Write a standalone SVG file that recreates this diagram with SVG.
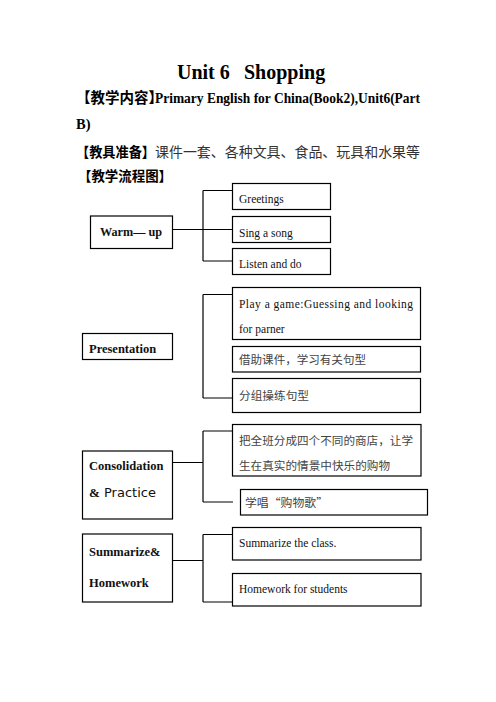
<svg xmlns="http://www.w3.org/2000/svg" width="496" height="702" viewBox="0 0 496 702">
<style>
.bg{fill:#fff}
.box{fill:#fff;stroke:#000;stroke-width:1.2}
.ln{fill:none;stroke:#000;stroke-width:1.2}
.hd{font-family:"Liberation Serif","Noto Sans CJK SC",serif;font-weight:bold;fill:#000}
.cjkb{font-family:"Noto Sans CJK SC",sans-serif;font-weight:bold}
.cjk{font-family:"Noto Sans CJK SC",sans-serif;font-weight:normal;fill:#333}
.en{font-family:"Liberation Serif",serif;font-size:11.5px;fill:#111}
.lb{font-family:"Liberation Serif",serif;font-weight:bold;font-size:12.5px;fill:#111}
.cn{font-family:"Noto Sans CJK SC",sans-serif;font-size:11.5px;fill:#444}
</style>
<rect class="bg" x="0" y="0" width="496" height="702"/>
<g id="header">
<text class="hd" font-size="20" y="79"><tspan x="177">Unit 6</tspan><tspan x="244">Shopping</tspan></text>
<text class="hd" font-size="14.5" y="103"><tspan class="cjkb" x="76">【教学内容】</tspan><tspan x="155" textLength="265" lengthAdjust="spacingAndGlyphs">Primary English for China(Book2),Unit6(Part</tspan></text>
<text class="hd" font-size="14.5" x="76" y="129">B)</text>
<text font-size="14" y="157"><tspan class="cjkb" x="76" textLength="79" lengthAdjust="spacingAndGlyphs">【教具准备】</tspan><tspan class="cjk" x="155" textLength="265" lengthAdjust="spacingAndGlyphs">课件一套、各种文具、食品、玩具和水果等</tspan></text>
<text class="cjkb" font-size="13.5" x="78" y="181" textLength="94" lengthAdjust="spacingAndGlyphs">【教学流程图】</text>
</g>
<g id="connectors">
<path class="ln" d="M172 229.5H203M203 190.5V261M203 190.5H232M203 229.5H232M203 261H232"/>
<path class="ln" d="M203 294.5V398M203 294.5H232M203 398H232"/>
<path class="ln" d="M172 462.5H203M203 431V502M203 431H232M203 502H233"/>
<path class="ln" d="M172 560.5H203M203 534.5V602M203 534.5H232M203 602H232"/>
</g>
<g id="warmup">
<rect class="box" x="90.5" y="216" width="82" height="32.5"/>
<text class="lb" x="100" y="236" textLength="62" lengthAdjust="spacingAndGlyphs">Warm— up</text>
</g>
<g id="greetings">
<rect class="box" x="232.5" y="183.5" width="98" height="26"/>
<text class="en" x="239" y="203">Greetings</text>
</g>
<g id="singasong">
<rect class="box" x="232.5" y="216.5" width="98" height="26"/>
<text class="en" x="239" y="236.5">Sing a song</text>
</g>
<g id="listen">
<rect class="box" x="232.5" y="248.5" width="98" height="26"/>
<text class="en" x="239" y="268">Listen and do</text>
</g>
<g id="presentation">
<rect class="box" x="82.5" y="333.5" width="90" height="26"/>
<text class="lb" x="89" y="353">Presentation</text>
</g>
<g id="game">
<rect class="box" x="232.5" y="287.5" width="188" height="52"/>
<text class="en" x="239" y="307.5" textLength="174" lengthAdjust="spacing">Play a game:Guessing and looking</text>
<text class="en" x="239" y="333">for parner</text>
</g>
<g id="jiezhu">
<rect class="box" x="232.5" y="346.5" width="188" height="25.5"/>
<text class="cn" x="239" y="364" textLength="127" lengthAdjust="spacingAndGlyphs">借助课件，学习有关句型</text>
</g>
<g id="fenzu">
<rect class="box" x="232.5" y="378.5" width="188" height="34"/>
<text class="cn" x="239" y="400" textLength="70" lengthAdjust="spacingAndGlyphs">分组操练句型</text>
</g>
<g id="consolidation">
<rect class="box" x="82.5" y="451" width="90" height="68"/>
<text class="lb" x="89" y="470">Consolidation</text>
<text x="89" y="497" font-size="13" fill="#111"><tspan font-family="Liberation Serif,serif" font-weight="bold">&amp;</tspan><tspan font-family="DejaVu Sans,sans-serif"> Practice</tspan></text>
</g>
<g id="shops">
<rect class="box" x="232.5" y="424.5" width="188.5" height="51.5"/>
<text class="cn" x="239" y="445" textLength="174" lengthAdjust="spacingAndGlyphs">把全班分成四个不同的商店，让学</text>
<text class="cn" x="239" y="470" textLength="151" lengthAdjust="spacingAndGlyphs">生在真实的情景中快乐的购物</text>
</g>
<g id="song">
<rect class="box" x="240.5" y="489.5" width="187" height="25.5"/>
<text class="cn" x="245" y="507" textLength="83" lengthAdjust="spacingAndGlyphs">学唱“购物歌”</text>
</g>
<g id="summarize">
<rect class="box" x="82.5" y="534" width="90" height="68"/>
<text class="lb" x="89" y="556">Summarize&amp;</text>
<text class="lb" x="89" y="586.5">Homework</text>
</g>
<g id="summarizeclass">
<rect class="box" x="232.5" y="527.5" width="188.5" height="32.5"/>
<text class="en" x="239" y="546.5">Summarize the class.</text>
</g>
<g id="homework">
<rect class="box" x="232.5" y="573.5" width="188.5" height="32.5"/>
<text class="en" x="239" y="593">Homework for students</text>
</g>
</svg>
